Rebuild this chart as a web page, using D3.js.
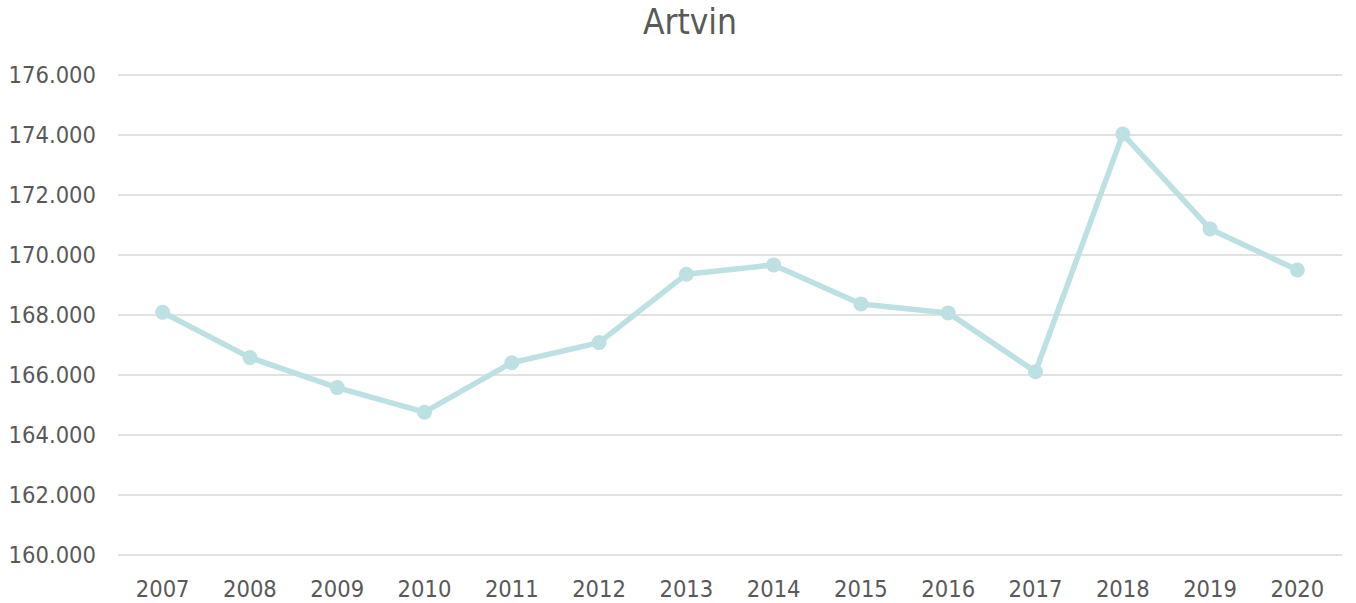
<!DOCTYPE html>
<html>
<head>
<meta charset="utf-8">
<script src="https://cdn.jsdelivr.net/npm/d3@7"></script>
<style>
  body { margin: 0; background: #fff; }
  text { font-family: "DejaVu Sans Condensed", "DejaVu Sans", sans-serif; font-stretch: condensed; fill: #595959; }
</style>
</head>
<body>
<script>
const title = "Artvin";
const years = ["2007","2008","2009","2010","2011","2012","2013","2014","2015","2016","2017","2018","2019","2020"];
const values = [168.09, 166.58, 165.58, 164.76, 166.41, 167.08, 169.36, 169.67, 168.37, 168.07, 166.11, 174.03, 170.87, 169.5];
const yTicks = [160, 162, 164, 166, 168, 170, 172, 174, 176];

const w = 1356, h = 603;
const plotLeft = 119, plotRight = 1341, plotTop = 75, plotBottom = 555;

const svg = d3.select("body").append("svg")
  .attr("width", w)
  .attr("height", h);

const x = d3.scaleBand().domain(years).range([plotLeft, plotRight]);
const y = d3.scaleLinear().domain([160, 176]).range([plotBottom, plotTop]);

// gridlines
svg.append("g")
  .selectAll("line")
  .data(yTicks)
  .join("line")
  .attr("x1", plotLeft - 1)
  .attr("x2", plotRight + 1)
  .attr("y1", d => y(d))
  .attr("y2", d => y(d))
  .attr("stroke", "#d9d9d9")
  .attr("stroke-width", 1.3);

// y labels
svg.append("g")
  .selectAll("text")
  .data(yTicks)
  .join("text")
  .attr("x", 96)
  .attr("y", d => y(d))
  .attr("dy", "0.36em")
  .attr("text-anchor", "end")
  .style("font-size", "23.5px")
  .text(d => d3.format(".3f")(d));

// x labels
svg.append("g")
  .selectAll("text")
  .data(years)
  .join("text")
  .attr("x", d => x(d) + x.bandwidth() / 2)
  .attr("y", 597)
  .attr("text-anchor", "middle")
  .style("font-size", "23.5px")
  .text(d => d);

const line = d3.line()
  .x((d, i) => x(years[i]) + x.bandwidth() / 2)
  .y(d => y(d));

svg.append("path")
  .datum(values)
  .attr("d", line)
  .attr("fill", "none")
  .attr("stroke", "#bde0e3")
  .attr("stroke-width", 5.5)
  .attr("stroke-linejoin", "round");

svg.append("g")
  .selectAll("circle")
  .data(values)
  .join("circle")
  .attr("cx", (d, i) => x(years[i]) + x.bandwidth() / 2)
  .attr("cy", d => y(d))
  .attr("r", 7.5)
  .attr("fill", "#bde0e3");

svg.append("text")
  .attr("x", 690)
  .attr("y", 34)
  .attr("text-anchor", "middle")
  .style("font-size", "35px")
  .text(title);
</script>
</body>
</html>
